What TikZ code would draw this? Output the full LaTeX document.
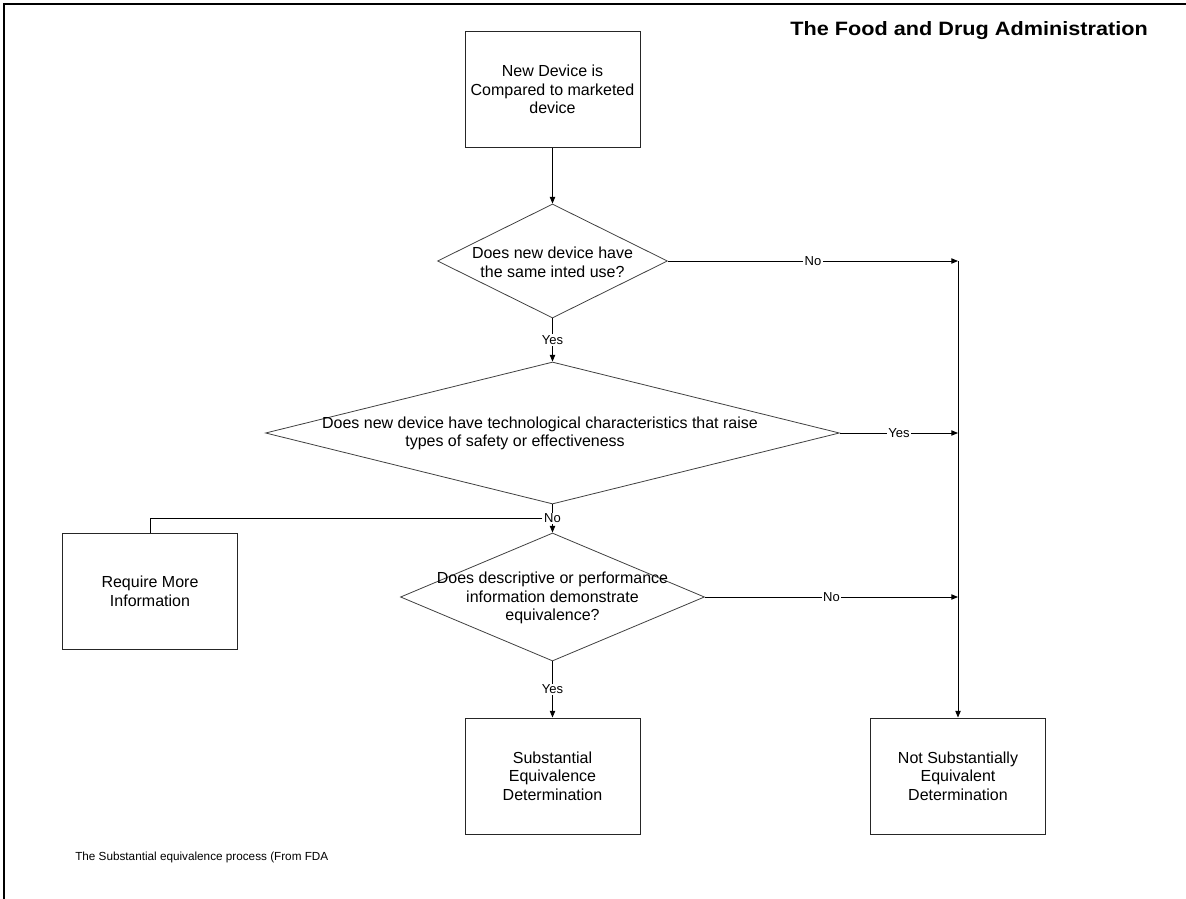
\documentclass[tikz,border=0pt]{standalone}
\usepackage{fontspec}
\setmainfont{Liberation Sans}
\usetikzlibrary{arrows.meta,shapes.geometric}

\begin{document}
\begin{tikzpicture}[x=0.75pt,y=-0.75pt,
  every node/.style={font=\fontsize{12}{14}\selectfont, inner sep=0pt, text=black},
  box/.style={draw=black!85, line width=0.7pt, minimum width=131.25pt, minimum height=87pt, align=center},
  dia/.style={draw=black!75, line width=0.6pt, shape=diamond, inner sep=0pt},
  qtext/.style={align=center},
  conn/.style={draw=black, line width=0.7pt, -{Triangle[length=5pt,width=4pt]}},
  plain/.style={draw=black, line width=0.7pt},
  lbl/.style={fill=white, inner sep=1pt, font=\fontsize{9.75}{11}\selectfont}]

\useasboundingbox (0,0) rectangle (1186,899);

% heavy page rule along the top and left edge
\draw[line width=2.2pt] (1186,4) -- (4,4) -- (4,899);

\node[anchor=base east, font=\fontsize{14.5}{17}\selectfont\bfseries] (title) at (1148,36)
  {\scalebox{1.12}[1]{The Food and Drug Administration}};

% process boxes
\node[box] (start) at (552.5,89.5) {New Device is\\Compared to marketed\\device};
\node[box] (more) at (150,591) {Require More\\Information};
\node[box] (se) at (552.5,776) {Substantial\\Equivalence\\Determination};
\node[box] (nse) at (958,776) {Not Substantially\\Equivalent\\Determination};

% decisions
\node[dia, minimum width=172.5pt, minimum height=85.5pt] (q1) at (552.5,261) {};
\node[qtext] (q1t) at (552.5,262.5) {Does new device have\\the same inted use?};
\node[dia, minimum width=430.5pt, minimum height=106.5pt] (q2) at (552.5,433) {};
\node[qtext] (q2t) at (540,433.5) {Does new device have technological characteristics that raise\\types of safety or effectiveness\rule{37.5pt}{0pt}};
\node[dia, minimum width=228pt, minimum height=96pt] (q3) at (552.5,597) {};
\node[qtext] (q3t) at (552.5,598) {Does descriptive or performance\\information demonstrate\\equivalence?};

% collecting line on the right
\coordinate (j1) at (958,261);
\coordinate (j2) at (958,433);
\coordinate (j3) at (958,597);

% connectors
\draw[conn] (start) -- (q1);
\draw[conn] (q1) -- node[lbl] {Yes} (q2);
\draw[conn] (q2) -- node[lbl] (n2) {No} (q3);
\draw[plain] (n2.west) -| (more.north);
\draw[conn] (q3) -- node[lbl] {Yes} (se);
\draw[conn] (q1) -- node[lbl] {No} (j1);
\draw[conn] (q2) -- node[lbl] {Yes} (j2);
\draw[conn] (q3) -- node[lbl] {No} (j3);
\draw[conn] (j1) -- (nse);

\node[anchor=base west, font=\fontsize{8.8}{10}\selectfont] (cap) at (75,860) {The Substantial equivalence process (From FDA};
\end{tikzpicture}
\end{document}
